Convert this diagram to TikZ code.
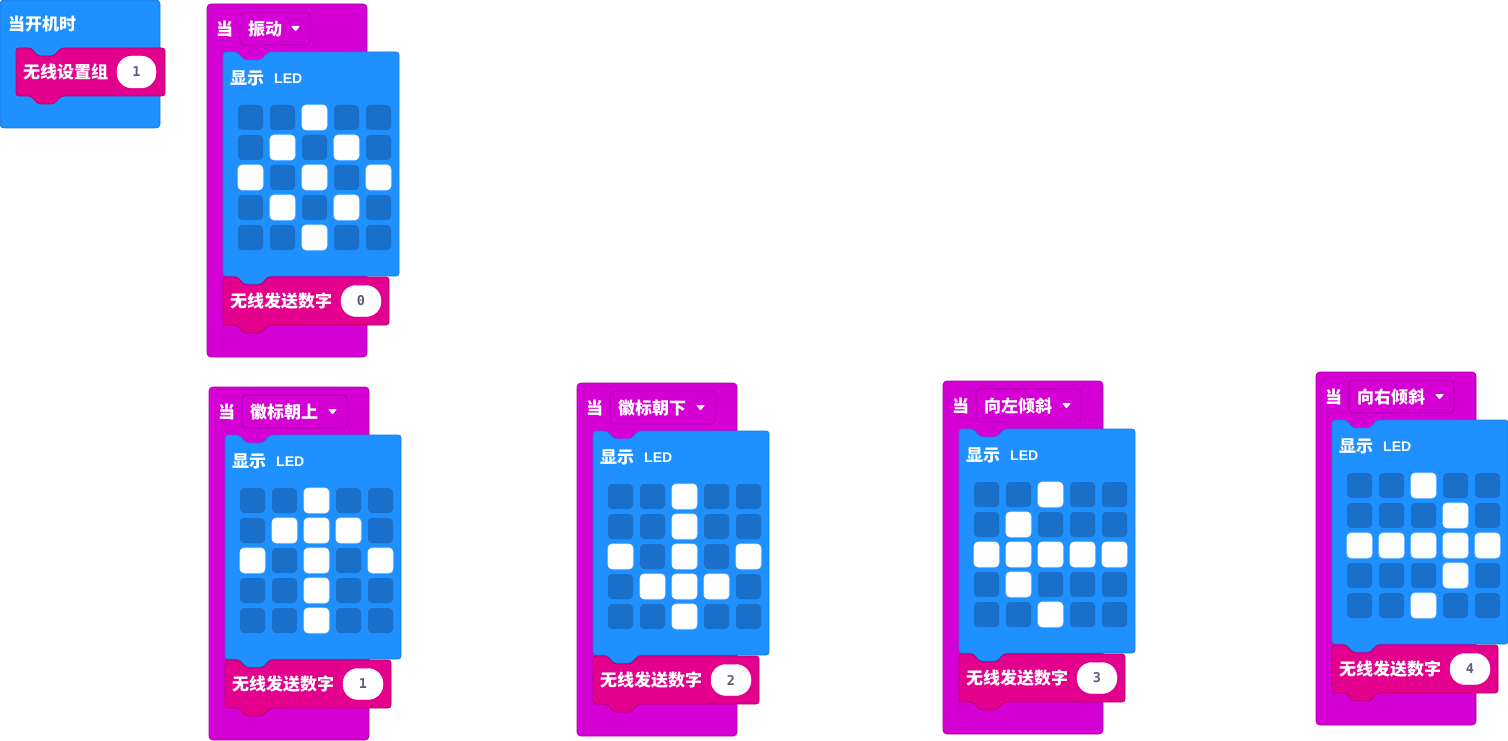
\documentclass[tikz,border=0pt]{standalone}
\usepackage{fontspec}
\setmainfont{Noto Sans CJK SC}
\newfontfamily\latf{Liberation Sans}
\newfontfamily\monof{DejaVu Sans Mono}
\definecolor{mbblue}{HTML}{1E90FF}
\definecolor{mbblueb}{HTML}{1A7AD8}
\definecolor{ledoff}{HTML}{1A6FC9}
\definecolor{mag}{HTML}{D400D4}
\definecolor{magb}{HTML}{A800A8}
\definecolor{rpink}{HTML}{E3008C}
\definecolor{rpinkb}{HTML}{B5006F}
\definecolor{numgray}{HTML}{575E75}
\tikzset{
  cjk/.style={font=\fontsize{17}{19}\selectfont\bfseries, text=white, inner sep=0pt, anchor=west},
  ledlbl/.style={font=\latf\fontsize{14}{16}\selectfont\bfseries, text=white, inner sep=0pt, anchor=west},
  pill/.style={fill=white, draw=white, rounded corners=15pt, minimum width=40pt, minimum height=31pt, inner sep=0pt, font=\monof\fontsize{13.5}{15}\selectfont\bfseries, text=numgray},
  magblk/.style={fill=mag, draw=magb, line width=0.8pt, rounded corners=4pt},
  blueblk/.style={fill=mbblue, draw=mbblueb, line width=0.8pt, rounded corners=3pt},
  pinkblk/.style={fill=rpink, draw=rpinkb, line width=0.8pt, rounded corners=3pt},
  ddbox/.style={fill=mag, draw=magb, line width=0.8pt, rounded corners=4pt},
  cellon/.style={fill=white, draw=white!90!mbblue, line width=0.6pt, rounded corners=4pt},
  celloff/.style={fill=ledoff, rounded corners=4pt},
}
% #1 X, #2 Y, #3 dropdown text, #4 dropdown width, #5 on cells, #6 number, #7 name prefix
\newcommand\evblock[7]{%
\begin{scope}[shift={(#1,#2)}]
  \draw[magblk] (0,0) rectangle (160,353);
  \node[cjk] (#7-when) at (9,25) {当};
  \draw[ddbox] (33,8) rectangle ({33+#4},41);
  \node[cjk] (#7-dd) at (41,25) {#3};
  \fill[white, rounded corners=0.8pt] ({33+#4-19},22) -- ({33+#4-10},22) -- ({33+#4-14.5},27.5) -- cycle;
  \draw[blueblk] (16,48) -- (30,48) -- (37,56) -- (54,56) -- (61,48) -- (192,48) -- (192,272) -- (61,272) -- (54,280) -- (37,280) -- (30,272) -- (16,272) -- cycle;
  \node[cjk] (#7-show) at (23,74) {显示};
  \node[ledlbl] (#7-led) at (67,75) {LED};
  \foreach \c in {0,...,4}{\foreach \r in {0,...,4}{
    \path[celloff] ({31+32*\c},{101+30*\r}) rectangle ++(25,25);}}
  \foreach \c/\r in {#5}{
    \path[cellon] ({31+32*\c},{101+30*\r}) rectangle ++(25,25);}
  \draw[pinkblk] (16,273) -- (30,273) -- (37,281) -- (54,281) -- (61,273) -- (182,273) -- (182,321) -- (61,321) -- (54,329) -- (37,329) -- (30,321) -- (16,321) -- cycle;
  \node[cjk] (#7-send) at (23,297) {无线发送数字};
  \node[pill] (#7-num) at (154,297) {#6};
\end{scope}}
\begin{document}
\begin{tikzpicture}[x=1pt,y=-1pt]
\useasboundingbox (0,0) rectangle (1508,741);
% on start
\draw[blueblk, rounded corners=4pt] (0,0) rectangle (160,128);
\node[cjk] (start) at (8,24) {当开机时};
\draw[pinkblk] (16,48) -- (31,48) -- (38,56) -- (54,56) -- (61,48) -- (165,48) -- (165,96) -- (61,96) -- (54,104) -- (38,104) -- (31,96) -- (16,96) -- cycle;
\node[cjk] (setgroup) at (23,72) {无线设置组};
\node[pill, minimum width=39pt, minimum height=32pt] (groupnum) at (136.5,72) {1};
% event blocks
\evblock{207}{4}{振动}{70}{2/0,1/1,3/1,0/2,2/2,4/2,1/3,3/3,2/4}{0}{shake}
\evblock{209}{387}{徽标朝上}{105}{2/0,1/1,2/1,3/1,0/2,2/2,4/2,2/3,2/4}{1}{up}
\evblock{577}{383}{徽标朝下}{105}{2/0,2/1,0/2,2/2,4/2,1/3,2/3,3/3,2/4}{2}{down}
\evblock{943}{381}{向左倾斜}{105}{2/0,1/1,0/2,1/2,2/2,3/2,4/2,1/3,2/4}{3}{left}
\evblock{1316}{372}{向右倾斜}{105}{2/0,3/1,0/2,1/2,2/2,3/2,4/2,3/3,2/4}{4}{right}
\end{tikzpicture}
\end{document}
